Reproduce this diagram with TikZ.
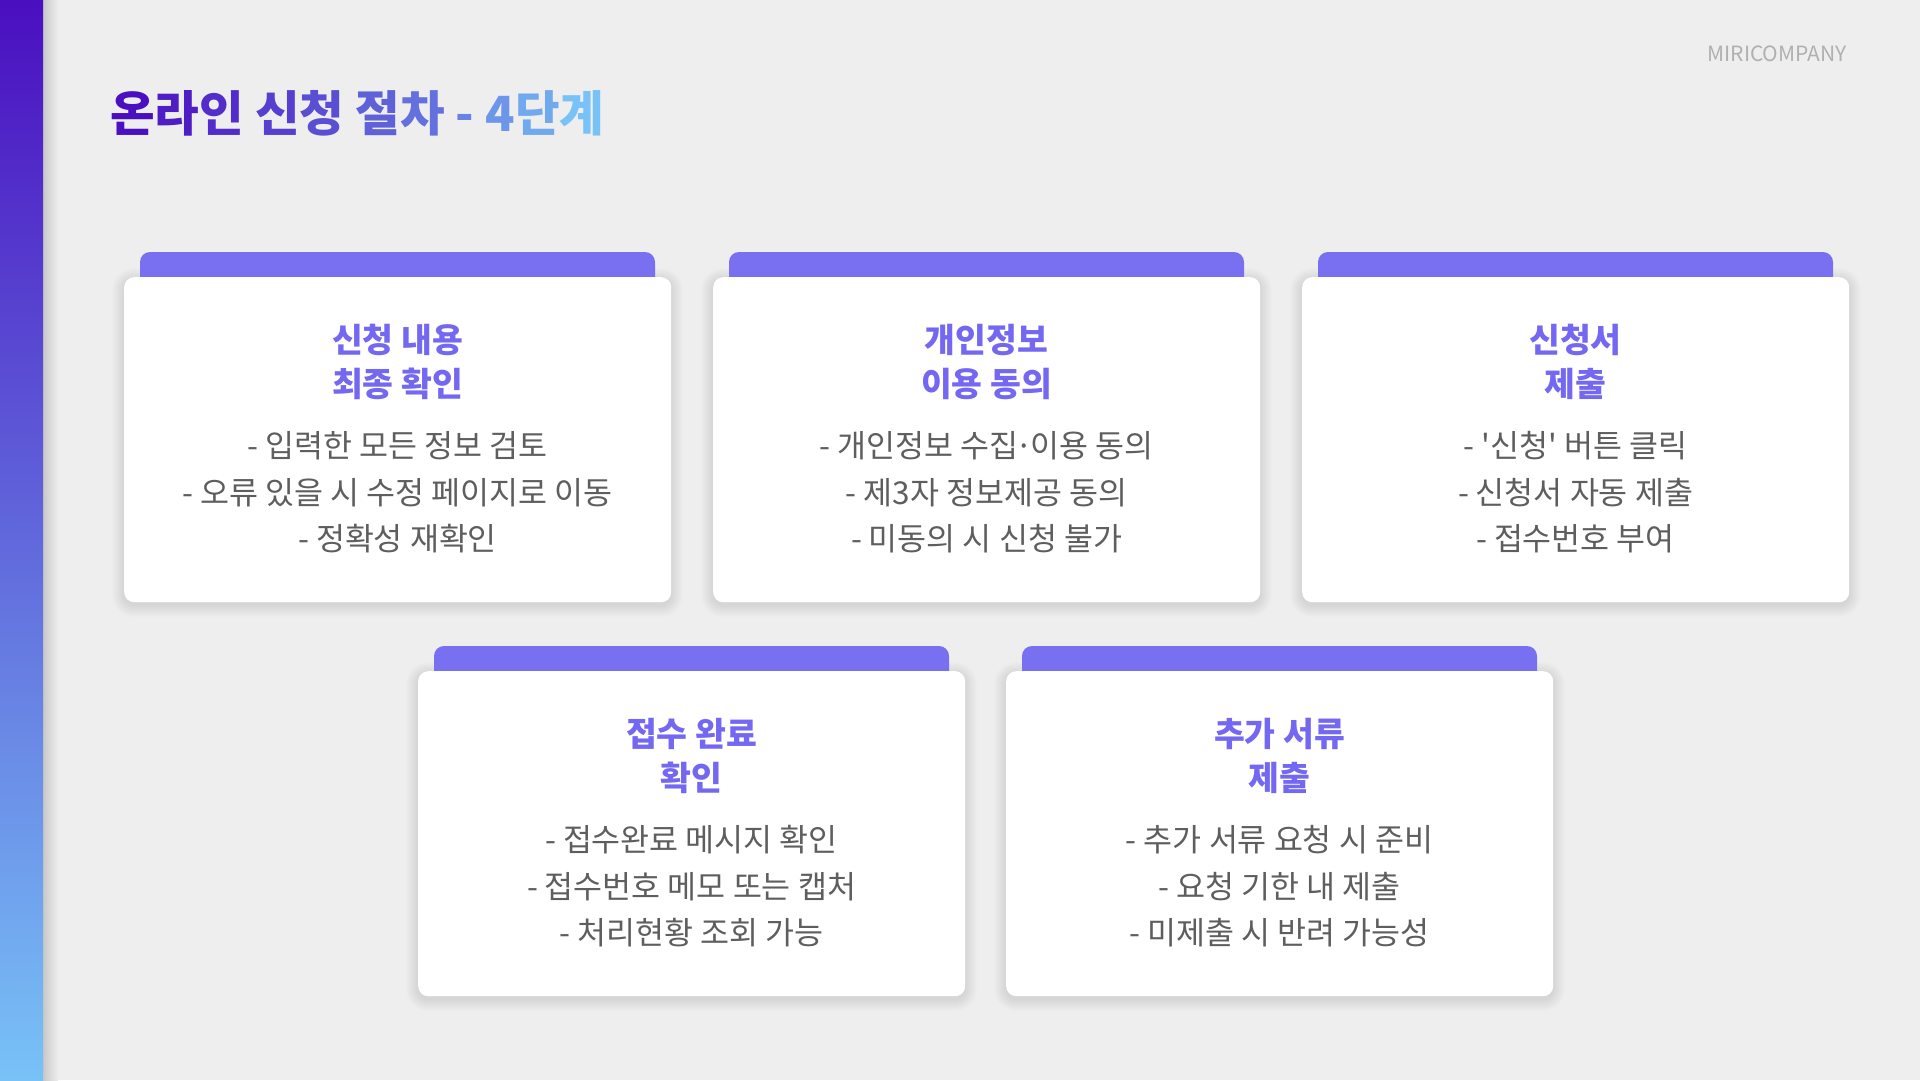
\documentclass[tikz,border=0pt]{standalone}
\usepackage{fontspec}
\setmainfont{Noto Sans CJK KR}
\newfontfamily\kr{Noto Sans CJK KR}
\usetikzlibrary{calc}
\definecolor{bg}{HTML}{EEEEEE}
\definecolor{tabc}{HTML}{7870F0}
\definecolor{ttl}{HTML}{7468F2}
\definecolor{bodytxt}{HTML}{5E5E5E}
\definecolor{gA}{HTML}{4A0FC0}
\definecolor{gB}{HTML}{78C2F7}
\definecolor{brand}{HTML}{B0B0B0}

\newcommand\gch[2]{\textcolor{gB!#1!gA}{#2}}
\newcommand\mdot{\kern-0.1em·\kern-0.1em}

\newcommand\mkcard[5]{%
  \foreach \i [evaluate=\i as \r using 10+\i] in {1,...,12} {
    \fill[black,opacity=0.008,rounded corners=\r pt] (#2-\i,#3-\i+3) rectangle (#2+547+\i,#3+325+\i+3);
  }
  \fill[tabc,rounded corners=10pt] (#2+16,#3-25) rectangle (#2+531,#3+15);
  \node[cardbox] (#1) at (#2,#3) {};
  \node[titletext] (#1t) at (#2+273.5,#3+84.5) {#4};
  \node[bodytext] (#1b) at (#2+273.5,#3+215.5) {#5};
}

\begin{document}
\begin{tikzpicture}[x=1pt,y=-1pt,
  cardbox/.style={fill=white,rounded corners=10pt,minimum width=547pt,minimum height=325pt,inner sep=0pt,anchor=north west},
  titletext/.style={text=ttl,align=center,inner sep=0pt,font=\kr\bfseries\fontsize{33.5}{44}\selectfont},
  bodytext/.style={text=bodytxt,align=center,inner sep=0pt,font=\kr\fontsize{31.5}{46.5}\selectfont}]
\useasboundingbox (0,0) rectangle (1920,1080);
\fill[bg] (0,0) rectangle (1920,1080);
% left bar with soft shadow
\fill[left color=black!16!bg,right color=bg] (43,0) rectangle (58,1080);
\fill[top color=gA,bottom color=gB] (0,0) rectangle (43,1080);
% title
\node[anchor=west,inner sep=0pt,font=\kr\bfseries\fontsize{48.5}{52}\selectfont] (title) at (110,113)
 {\gch{0}{온}\gch{8}{라}\gch{17}{인} \gch{27}{신}\gch{35}{청} \gch{46}{절}\gch{54}{차} \gch{65}{-} \gch{75}{4}\gch{86}{단}\gch{100}{계}};
\node[anchor=east,inner sep=0pt,text=brand,font=\kr\fontsize{21}{24}\selectfont] (brand) at (1847,54) {MIRICOMPANY};
% cards
\mkcard{c1}{124}{277}{신청 내용\\최종 확인}{- 입력한 모든 정보 검토\\- 오류 있을 시 수정 페이지로 이동\\- 정확성 재확인}
\mkcard{c2}{713}{277}{개인정보\\이용 동의}{- 개인정보 수집\mdot{}이용 동의\\- 제3자 정보제공 동의\\- 미동의 시 신청 불가}
\mkcard{c3}{1302}{277}{신청서\\제출}{- '신청' 버튼 클릭\\- 신청서 자동 제출\\- 접수번호 부여}
\mkcard{c4}{418}{671}{접수 완료\\확인}{- 접수완료 메시지 확인\\- 접수번호 메모 또는 캡처\\- 처리현황 조회 가능}
\mkcard{c5}{1006}{671}{추가 서류\\제출}{- 추가 서류 요청 시 준비\\- 요청 기한 내 제출\\- 미제출 시 반려 가능성}
\end{tikzpicture}
\end{document}
